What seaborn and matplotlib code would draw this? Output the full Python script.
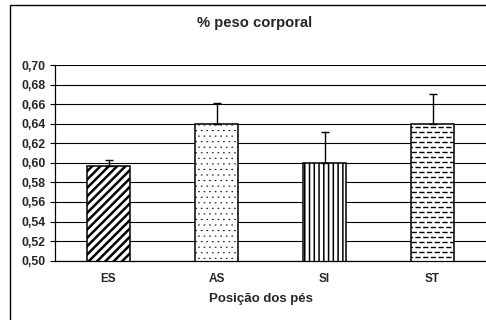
import numpy as np
import matplotlib
matplotlib.use("Agg")
import matplotlib.pyplot as plt
import matplotlib.hatch as mhatch
from matplotlib.path import Path
from matplotlib.patches import Rectangle
from matplotlib.ticker import FixedLocator
import seaborn as sns

# ---- data -------------------------------------------------------------
categories = ["ES", "AS", "SI", "ST"]
values = [0.597, 0.640, 0.600, 0.640]
errors = [0.006, 0.021, 0.032, 0.030]
y_ticks = [0.50, 0.52, 0.54, 0.56, 0.58, 0.60, 0.62, 0.64, 0.66, 0.68, 0.70]
y_tick_labels = ["0,50", "0,52", "0,54", "0,56", "0,58", "0,60",
                 "0,62", "0,64", "0,66", "0,68", "0,70"]
title = "% peso corporal"
x_title = "Posição dos pés"


# ---- fill patterns ----------------------------------------------------
class DenseDiagonal(mhatch.HatchPatternBase):
    """Bold rising diagonal stripes for '/'."""
    def __init__(self, hatch, density):
        self.n = 12 if "/" in hatch else 0
        self.num_vertices = (2 * self.n + 1) * 2 if self.n else 0

    def set_vertices_and_codes(self, vertices, codes):
        offs = np.linspace(-1.0, 1.0, 2 * self.n + 1)
        vertices[0::2, 0] = offs
        vertices[0::2, 1] = 0.0
        vertices[1::2, 0] = offs + 1.0
        vertices[1::2, 1] = 1.0
        codes[0::2] = Path.MOVETO
        codes[1::2] = Path.LINETO


class DenseVertical(mhatch.HatchPatternBase):
    """Closely spaced vertical stripes for '|'."""
    def __init__(self, hatch, density):
        self.num_lines = 21 if "|" in hatch else 0
        self.num_vertices = self.num_lines * 2

    def set_vertices_and_codes(self, vertices, codes):
        steps = np.linspace(0.0, 1.0, self.num_lines, endpoint=False)
        vertices[0::2, 0] = steps
        vertices[0::2, 1] = 0.0
        vertices[1::2, 0] = steps
        vertices[1::2, 1] = 1.0
        codes[0::2] = Path.MOVETO
        codes[1::2] = Path.LINETO


class DashedHorizontal(mhatch.HatchPatternBase):
    """Rows of short staggered dashes for '-'."""
    def __init__(self, hatch, density):
        if "-" in hatch:
            self.rows, self.cols = 20, 13
        else:
            self.rows, self.cols = 0, 0
        self.num_vertices = self.rows * self.cols * 2

    def set_vertices_and_codes(self, vertices, codes):
        k = 0
        step = 1.0 / self.cols
        for i in range(self.rows):
            y = (i + 0.5) / self.rows
            shift = 0.5 * step if i % 2 else 0.0
            for j in range(self.cols):
                x0 = j * step + shift + 0.1 * step
                x1 = x0 + 0.5 * step
                if x1 > 1.0:
                    x0, x1 = x0 - 1.0, x1 - 1.0
                    if x0 < 0:
                        x0 = 0.0
                vertices[k] = (x0, y)
                vertices[k + 1] = (x1, y)
                codes[k] = Path.MOVETO
                codes[k + 1] = Path.LINETO
                k += 2


class FineDots(mhatch.HatchPatternBase):
    """Sparse pin-point dots on a staggered grid for '.'."""
    def __init__(self, hatch, density):
        self.rows = 18 if "." in hatch else 0
        self.pts = []
        for r in range(self.rows):
            y = (r + 0.5) / self.rows
            off = 0.5 / self.rows if r % 2 else 0.0
            for c in range(self.rows):
                self.pts.append(((c + 0.25) / self.rows + off, y))
        self.num_vertices = len(self.pts) * 2

    def set_vertices_and_codes(self, vertices, codes):
        d = 0.006
        for n, (x, y) in enumerate(self.pts):
            vertices[2 * n] = (x, y)
            vertices[2 * n + 1] = (x + d, y)
            codes[2 * n] = Path.MOVETO
            codes[2 * n + 1] = Path.LINETO


mhatch._hatch_types = [
    DenseDiagonal,
    DenseVertical,
    DashedHorizontal,
    FineDots,
]

hatches = ["/", ".", "|", "-"]
hatch_widths = [1.8, 0.75, 1.1, 1.0]

# ---- figure -----------------------------------------------------------
sns.set_style("white")
plt.rcParams["font.family"] = ["Liberation Sans", "DejaVu Sans"]
plt.rcParams["font.weight"] = "bold"
plt.rcParams["hatch.color"] = "black"

W, H = 486, 320
fig = plt.figure(figsize=(W / 100, H / 100), dpi=100)
fig.patch.set_facecolor("white")

ax = fig.add_axes([54.5 / W, (H - 260.7) / H, 432 / W, (260.7 - 65) / H])

sns.barplot(x=categories, y=values, color="white", saturation=1,
            edgecolor="black", linewidth=1.1, width=0.4,
            errorbar=None, ax=ax)

for p, h, lw in zip(ax.patches, hatches, hatch_widths):
    p.set_hatch(h)
    if hasattr(p, "set_hatch_linewidth"):
        p.set_hatch_linewidth(lw)
    else:
        p._hatch_linewidth = lw

# upper-only error bars
ax.errorbar(np.arange(len(categories)), values,
            yerr=[np.zeros(len(errors)), errors],
            fmt="none", ecolor="black", elinewidth=1.0,
            capsize=2.6, capthick=1.0, zorder=3)

ax.set_ylim(0.50, 0.70)
ax.set_xlim(-0.5, len(categories) - 0.5)
ax.set_yticks(y_ticks)
ax.set_yticklabels(y_tick_labels)
ax.yaxis.grid(True, color="black", linewidth=0.8)
ax.set_axisbelow(True)

ax.xaxis.set_minor_locator(FixedLocator(np.arange(-0.5, len(categories), 1.0)))
ax.tick_params(axis="x", which="major", length=0, pad=9, labelsize=8.5)
ax.tick_params(axis="x", which="minor", length=3, width=0.8,
               color="black", direction="out")
ax.tick_params(axis="y", length=3.5, width=0.8, color="black",
               direction="out", pad=3, labelsize=8.8, left=True)
for lab in ax.get_xticklabels() + ax.get_yticklabels():
    lab.set_fontweight("bold")

for side in ("top", "right"):
    ax.spines[side].set_visible(False)
for side in ("left", "bottom"):
    ax.spines[side].set_color("black")
    ax.spines[side].set_linewidth(0.9)
ax.set_xlabel("")
ax.set_ylabel("")

# chart frame and titles
fig.add_artist(Rectangle((9.5 / W, -0.1), 1.2, 1.1 - 5.5 / H,
                         transform=fig.transFigure, fill=False,
                         edgecolor="black", linewidth=1.0))
fig.text(255 / W, 1 - 23 / H, title, ha="center", va="center",
         fontsize=10.6, fontweight="bold")
fig.text(261 / W, 1 - 299 / H, x_title, ha="center", va="center",
         fontsize=9.5, fontweight="bold")

fig.savefig("out.png", dpi=100, facecolor="white")
